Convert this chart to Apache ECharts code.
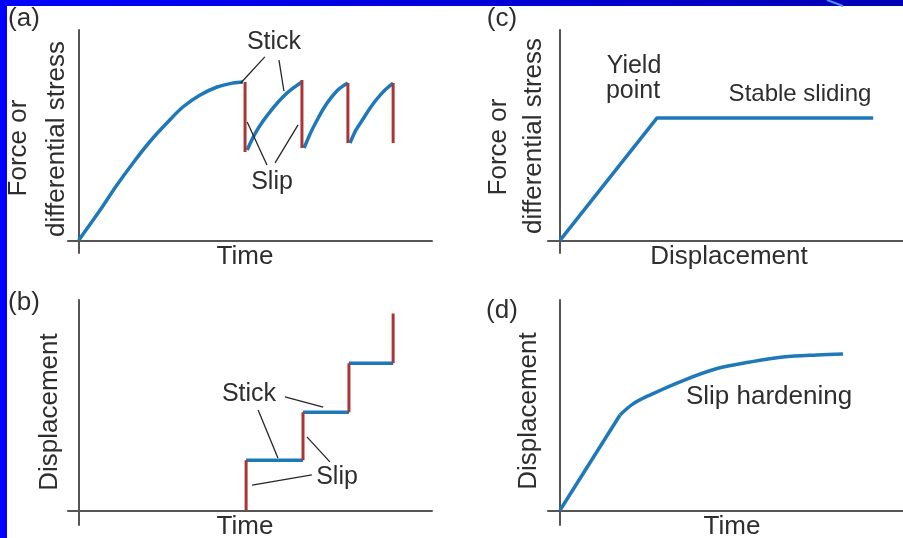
<!DOCTYPE html>
<html>
<head>
<meta charset="utf-8">
<script src="https://cdn.jsdelivr.net/npm/echarts@6/dist/echarts.min.js"></script>
<style>html,body{margin:0;padding:0;background:#fff}#c{width:903px;height:538px}</style>
</head>
<body>
<div id="c"></div>
<script>
// ---- Data (arbitrary units) ----
// (a) stick-slip: force vs time
const aLoading = [[0,0],[0.61,1.44],[1.05,2.55],[1.54,3.68],[2.02,4.70],[2.50,5.58],[2.95,6.34],[3.44,6.91],[3.92,7.29],[4.37,7.48],[4.65,7.53]];
const aTeeth = [
  [[4.77,4.30],[4.99,5.06],[5.22,5.67],[5.50,6.29],[5.78,6.82],[6.04,7.20],[6.32,7.53]],
  [[6.38,4.39],[6.55,5.06],[6.75,5.72],[6.94,6.29],[7.14,6.77],[7.37,7.20],[7.62,7.48]],
  [[7.68,4.63],[7.85,5.25],[8.05,5.77],[8.25,6.29],[8.44,6.72],[8.67,7.15],[8.90,7.48]]
];
const aSlips = [[4.71,7.53,4.20],[6.32,7.62,4.39],[7.62,7.48,4.63],[8.90,7.48,4.63]]; // [x, top, bottom]
const aStickLeaders = [[[5.27,8.72],[4.59,7.48]],[[5.67,8.57],[5.81,7.10]]];
const aSlipLeaders = [[[5.33,3.58],[4.77,5.63]],[[5.56,3.68],[6.21,5.49]]];
// (b) displacement vs time (staircase)
const bSticks = [[4.74,6.35,2.38],[6.35,7.65,4.66],[7.65,8.90,6.99]]; // [x0, x1, y]
const bSlips = [[4.74,0,2.38],[6.35,2.38,4.66],[7.65,4.66,6.99],[8.90,6.99,9.36]]; // [x, y0, y1]
const bStickLeaders = [[[5.84,5.39],[6.92,4.91]],[[5.08,4.77],[5.64,2.49]]];
const bSlipLeaders = [[[7.11,2.30],[6.46,3.49]],[[6.60,1.68],[4.91,1.20]]];
// (c) stable sliding
const cCurve = [[0,0],[2.83,5.82],[9.13,5.82]];
// (d) slip hardening: linear part, then hardening curve
const dLinear = [[0,0],[1.75,4.53]];
const dCurve = [[1.75,4.53],[2.12,5.05],[2.62,5.48],[3.59,6.17],[4.58,6.74],[5.54,7.05],[6.50,7.29],[7.49,7.39],[8.25,7.43]];

// ---- Text ----
const panelTags = ['(a)','(b)','(c)','(d)'];
const forceLabel = ['Force or','differential stress'];
const dispLabel = 'Displacement';
const timeLabel = 'Time';

const BLUE = '#1f78b8', RED = '#ab3535', AX = '#555', TXT = '#2e2e2e', LEAD = '#262626';
const FONT = '"Liberation Sans", Arial, Helvetica, sans-serif';

const grids = [
  {left:68, top:30, width:364, height:223},
  {left:68, top:300, width:364, height:225},
  {left:548, top:30, width:355, height:223},
  {left:548, top:300, width:355, height:225}
];
const xr = [[-0.3,10],[-0.3,10],[-0.35,10],[-0.35,10]];
const yr = [[-0.6,10],[-0.7,10],[-0.6,10],[-0.7,10]];

const axisCommon = {
  axisLine:{show:true,onZero:true,lineStyle:{color:AX,width:2}},
  axisTick:{show:false}, axisLabel:{show:false}, splitLine:{show:false}
};
const xAxis = xr.map((r,i)=>Object.assign({type:'value',gridIndex:i,min:r[0],max:r[1]},axisCommon));
const yAxis = yr.map((r,i)=>Object.assign({type:'value',gridIndex:i,min:r[0],max:r[1]},axisCommon));

const series = [];
function line(idx, data, color, width, smooth, z){
  series.push({type:'line', xAxisIndex:idx, yAxisIndex:idx, data, showSymbol:false, symbol:'none',
    smooth: smooth||false, lineStyle:{color, width, cap:'butt', join:'round'}, z: z||2, silent:true, animation:false});
}
// (a)
line(0, aLoading, BLUE, 3.5, 0.35);
aTeeth.forEach(t=>line(0, t, BLUE, 3.5, 0.3));
aSlips.forEach(s=>line(0, [[s[0],s[1]],[s[0],s[2]]], RED, 3, false, 3));
aStickLeaders.concat(aSlipLeaders).forEach(l=>line(0, l, LEAD, 1.3, false, 4));
// (b)
bSticks.forEach(s=>line(1, [[s[0],s[2]],[s[1],s[2]]], BLUE, 3.5));
bSlips.forEach(s=>line(1, [[s[0],s[1]],[s[0],s[2]]], RED, 3, false, 3));
bStickLeaders.concat(bSlipLeaders).forEach(l=>line(1, l, LEAD, 1.3, false, 4));
// (c)
line(2, cCurve, BLUE, 3.5);
// (d)
line(3, dLinear, BLUE, 3.5);
line(3, dCurve, BLUE, 3.5, 0.35);

function txt(text, x, y, size, rot){
  return {type:'text', x, y, rotation: rot||0, z:10, silent:true,
    style:{text, fill:TXT, font: size+'px '+FONT, textAlign:'center', textVerticalAlign:'middle'}};
}
const R = Math.PI/2;
const graphic = [
  {type:'rect', shape:{x:0,y:0,width:903,height:6}, z:20, silent:true,
    style:{fill:{type:'linear',x:0,y:0,x2:1,y2:0,colorStops:[{offset:0,color:'#0000ff'},{offset:0.35,color:'#0000e6'},{offset:1,color:'#0000b4'}]}}},
  {type:'line', shape:{x1:827,y1:0,x2:843,y2:6}, z:21, silent:true, style:{stroke:'#4d8dff',lineWidth:2}},
  {type:'rect', shape:{x:0,y:0,width:7,height:538}, z:20, silent:true, style:{fill:'#0000ff'}},
  txt(panelTags[0], 24, 19, 26),
  txt(panelTags[1], 24, 303, 26),
  txt(panelTags[2], 502, 19, 26),
  txt(panelTags[3], 502, 311, 26),
  txt(forceLabel[0], 19, 148, 26, R),
  txt(forceLabel[1], 57, 139, 26, R),
  txt(forceLabel[0], 499, 147, 26, R),
  txt(forceLabel[1], 534, 136, 26, R),
  txt(dispLabel, 50, 412, 26, R),
  txt(dispLabel, 529, 411, 26, R),
  txt(timeLabel, 245, 257, 26),
  txt(timeLabel, 245, 527, 26),
  txt(dispLabel, 729, 257, 26),
  txt(timeLabel, 732, 527, 26),
  txt('Stick', 274, 42, 25),
  txt('Slip', 272, 182, 25),
  txt('Stick', 249, 394, 25),
  txt('Slip', 337, 477, 25),
  txt('Yield', 634, 66, 25),
  txt('point', 633, 91, 25),
  txt('Stable sliding', 800, 94, 24),
  txt('Slip hardening', 769, 397, 26)
];

const chart = echarts.init(document.getElementById('c'), null, {renderer:'canvas'});
chart.setOption({
  backgroundColor:'#ffffff',
  animation:false,
  grid: grids.map(g=>Object.assign({containLabel:false},g)),
  xAxis, yAxis, series, graphic
});
</script>
</body>
</html>
